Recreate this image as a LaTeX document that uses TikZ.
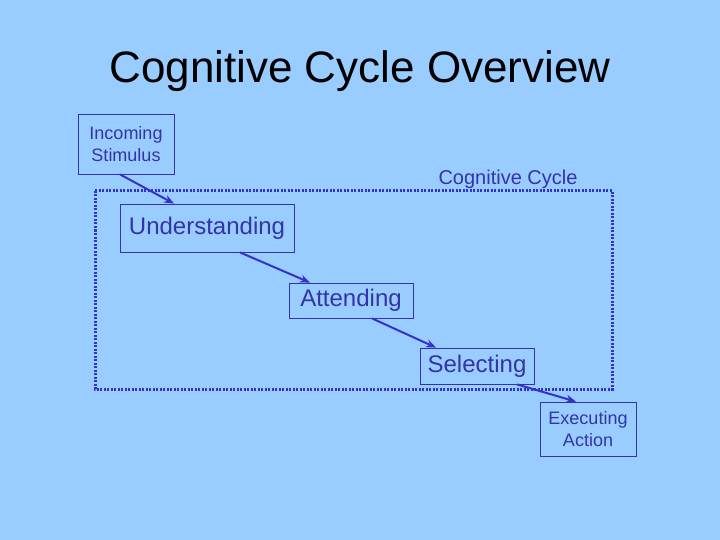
\documentclass[tikz,border=0pt]{standalone}
\usepackage{fontspec}
\setmainfont{Liberation Sans}
\usetikzlibrary{arrows.meta}
\definecolor{fond}{RGB}{153,204,255}
\definecolor{encre}{RGB}{51,51,170}
\definecolor{fleche}{RGB}{51,51,204}
\tikzset{
  boite/.style={draw=encre, line width=.8pt, text=encre, inner sep=0pt, align=center},
  fleche/.style={draw=fleche, line width=2pt, -{Stealth[length=10pt,width=8pt]}},
  cadre/.style={draw=fleche, line width=3pt, dash pattern=on 2pt off 1.5pt}
}
\begin{document}
\begin{tikzpicture}  % ------ Cycle cognitif -------
      [x=1pt, y=-1pt]
    \useasboundingbox[fill=fond] (0,0) rectangle (720,540);
    \coordinate (T) at (360,71);
    \coordinate (C1) at (95,191);    
    \coordinate (C2) at (612,389);

    \node[font=\fontsize{44}{48}\selectfont] (titre) at (T) {Cognitive Cycle Overview};
    \draw[cadre] (C1) rectangle (C2) ;  % le cycle
    \node[text=encre, font=\fontsize{20}{22}\selectfont] (cyc) at (508,179) {Cognitive Cycle};

    \node[boite, minimum width=96pt, minimum height=60pt, font=\fontsize{18}{22}\selectfont]
         (inc) at (126,144) {Incoming\\ Stimulus};
    \node[boite, minimum width=174pt, minimum height=48pt, font=\fontsize{24}{26}\selectfont]
         (und) at (207,228) {\raisebox{-2pt}{Understanding}};
    \node[boite, minimum width=124pt, minimum height=35pt, font=\fontsize{24}{26}\selectfont]
         (att) at (351,300.5) {\raisebox{-2pt}{Attending}};
    \node[boite, minimum width=114pt, minimum height=36pt, font=\fontsize{24}{26}\selectfont]
         (sel) at (477,366) {\raisebox{-2pt}{Selecting}};
    \node[boite, minimum width=96pt, minimum height=54pt, font=\fontsize{18}{22}\selectfont]
         (exe) at (588,429) {Executing\\ Action};

    \draw[fleche] ([xshift=-6pt]inc.south) -- ([xshift=-33pt]und.north);
    \draw[fleche] ([xshift=33pt]und.south) -- ([xshift=-41pt]att.north);
    \draw[fleche] ([xshift=21pt]att.south) -- ([xshift=-41pt]sel.north);
    \draw[fleche] ([xshift=40pt]sel.south) -- ([xshift=-12pt]exe.north);
\end{tikzpicture}
\end{document}
